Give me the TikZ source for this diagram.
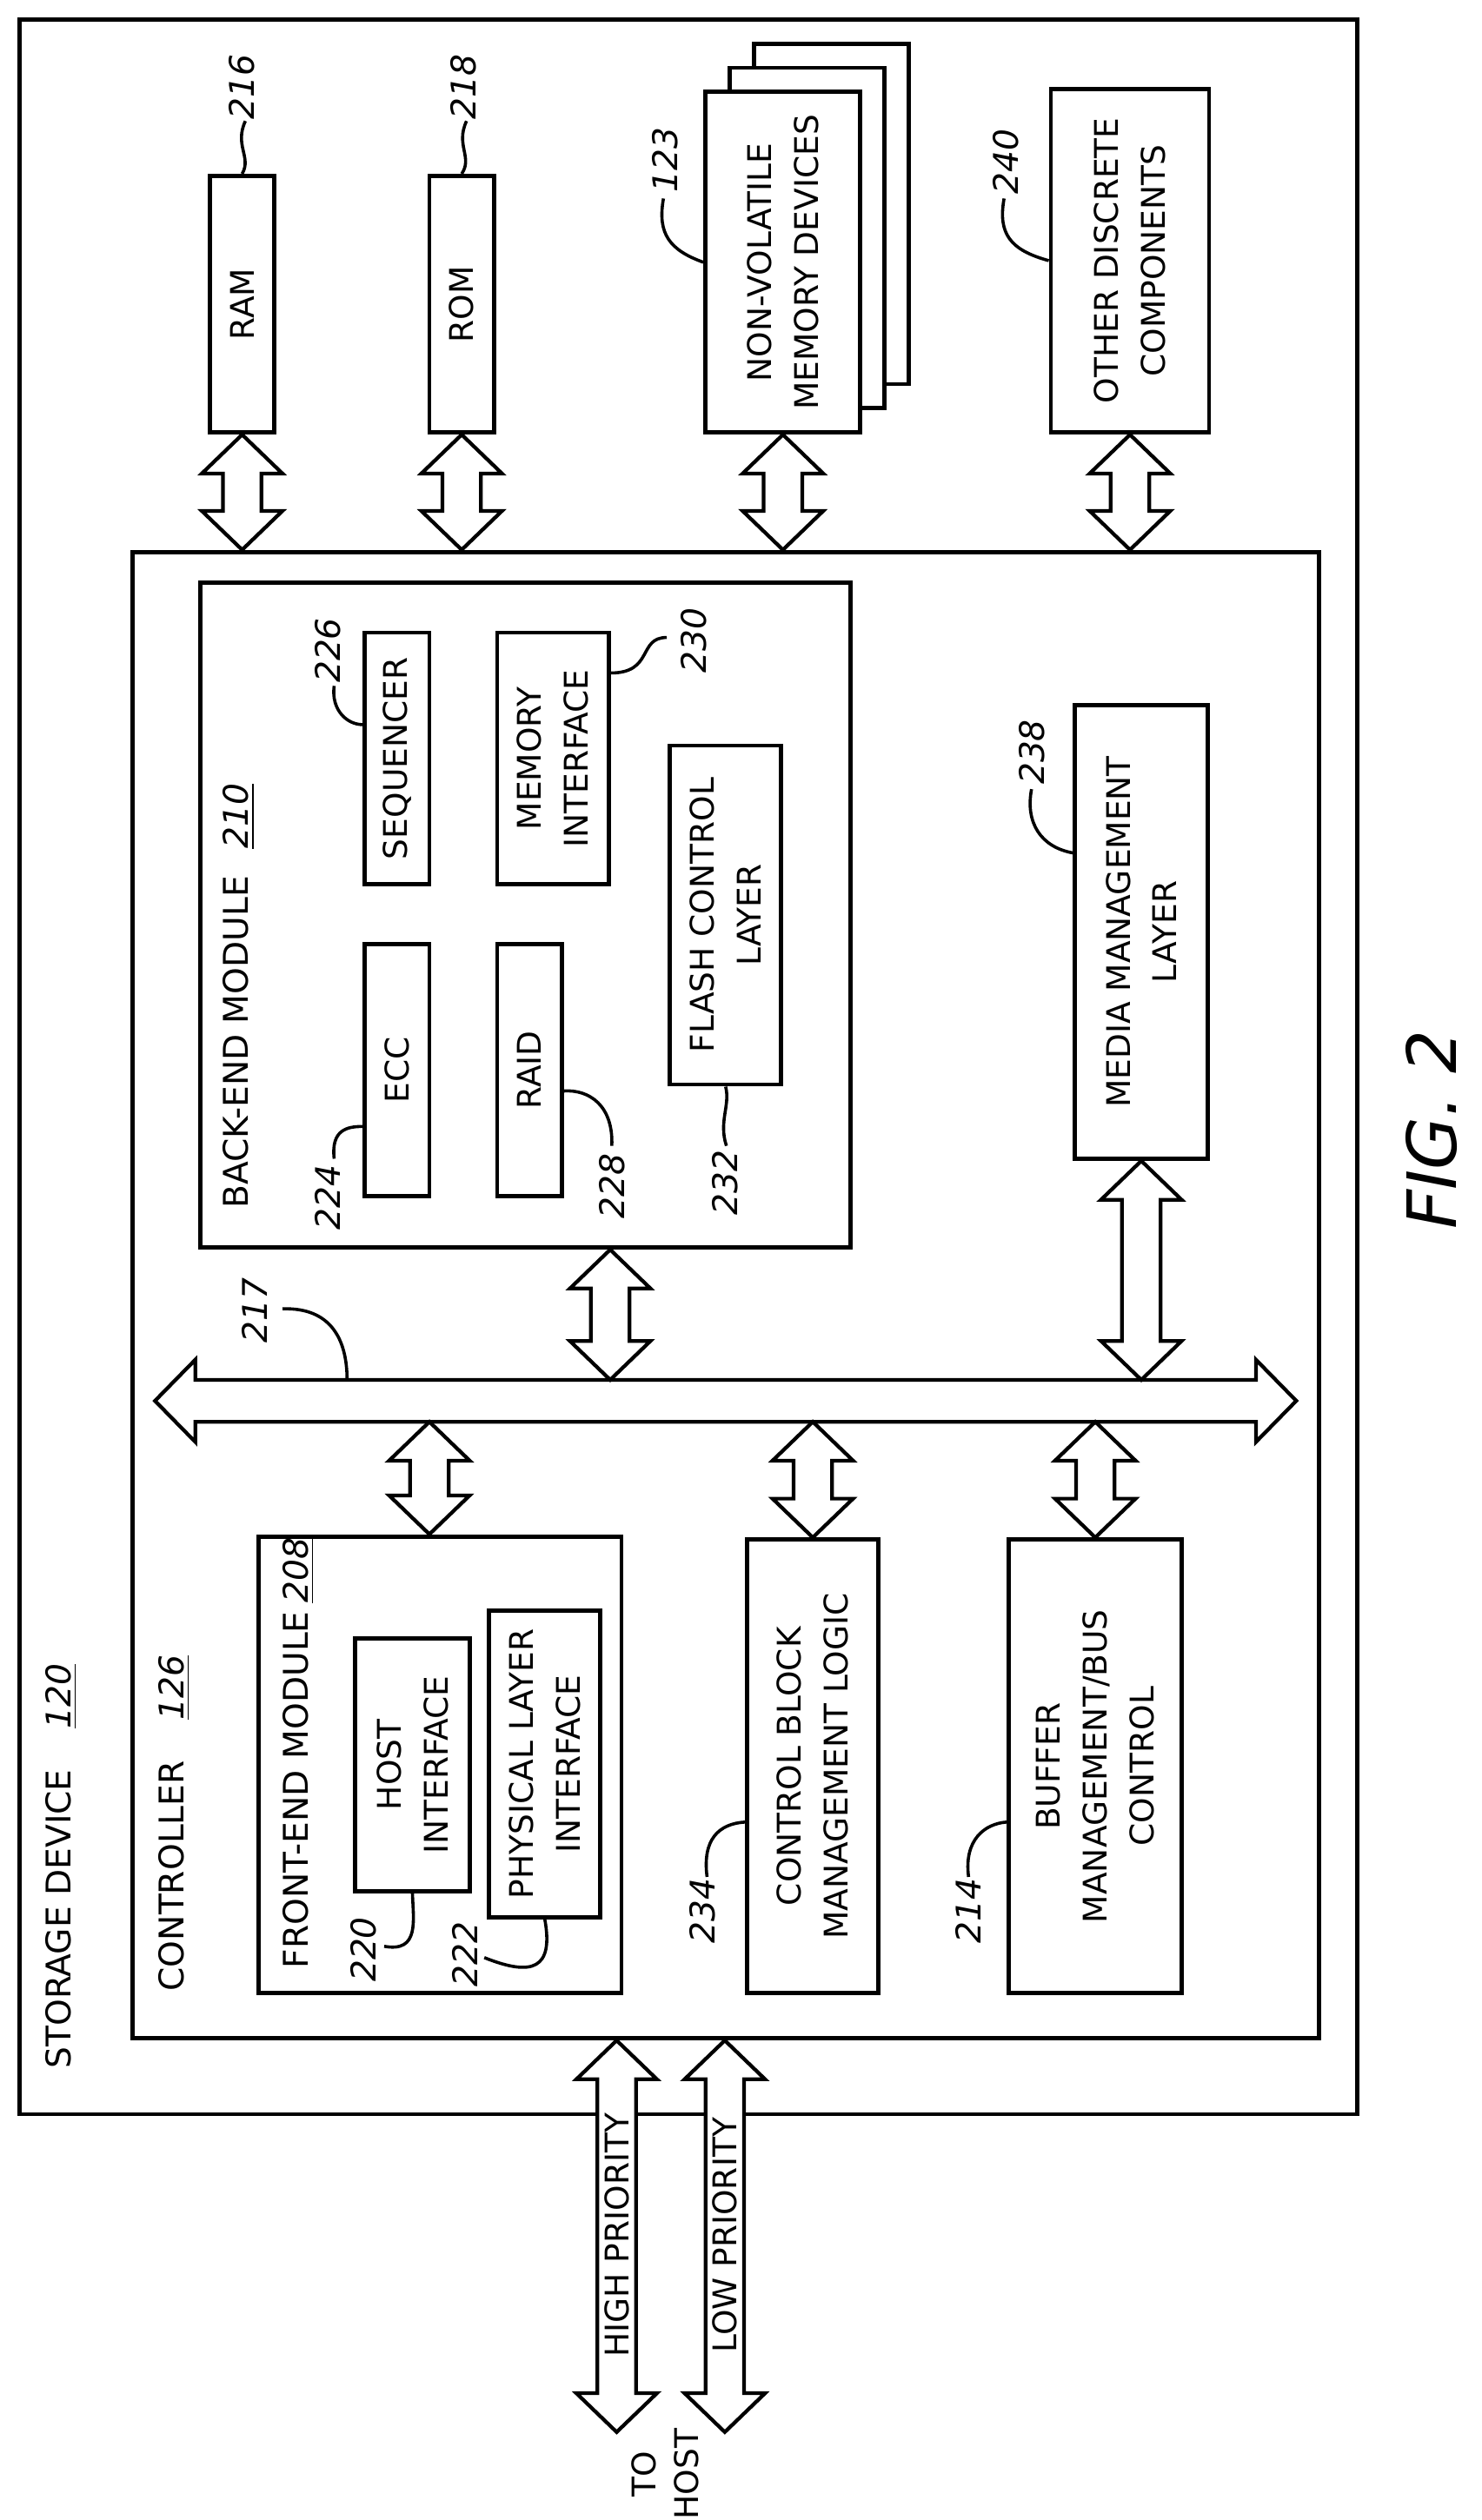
\documentclass[tikz,border=0pt]{standalone}
\usepackage{fontspec}
\setmainfont{DejaVu Sans}
\usetikzlibrary{calc,positioning}

\tikzset{
  box/.style={draw, line width=1.5pt, fill=white, inner sep=0pt},
  txt/.style={rotate=90, align=center, font=\fontsize{11.5}{16.5}\selectfont},
  num/.style={rotate=90, font=\fontsize{12}{14}\selectfont\itshape},
  lead/.style={line width=1.1pt},
  barrow/.style={draw, line width=1.3pt, fill=white, line join=miter}
}
% vertical block double arrow, top point #1, bottom point #2
\newcommand{\vblock}[2]{%
  \path[barrow] let \p1=#1, \p2=#2 in
    (\x1,\y1) -- (\x1+14.2pt,\y1-13.7pt) -- (\x1+6.8pt,\y1-13.7pt) -- (\x1+6.8pt,\y2+13.7pt)
    -- (\x1+14.2pt,\y2+13.7pt) -- (\x1,\y2) -- (\x1-14.2pt,\y2+13.7pt) -- (\x1-6.8pt,\y2+13.7pt)
    -- (\x1-6.8pt,\y1-13.7pt) -- (\x1-14.2pt,\y1-13.7pt) -- cycle;}

\begin{document}
\begin{tikzpicture}
\useasboundingbox (0,0) rectangle (18.36,-31.23);

% outer boxes
\node[box, minimum width=16.58cm, minimum height=25.96cm] (storage) at (8.53,-13.22) {};
\node[box, minimum width=14.70cm, minimum height=18.42cm] (controller) at (8.99,-16.05) {};

% memories above controller
\node[box, minimum width=0.80cm, minimum height=3.18cm, label={[txt]center:RAM}] (ram) at (3.0,-3.77) {};
\node[box, minimum width=0.80cm, minimum height=3.18cm, label={[txt]center:ROM}] (rom) at (5.72,-3.77) {};
\node[box, minimum width=1.92cm, minimum height=4.22cm] (nvm3) at (10.30,-2.65) {};
\node[box, minimum width=1.92cm, minimum height=4.22cm] (nvm2) at (10.00,-2.95) {};
\node[box, minimum width=1.92cm, minimum height=4.22cm, label={[txt]center:NON-VOLATILE\\MEMORY DEVICES}] (nvm) at (9.70,-3.25) {};
\node[box, minimum width=1.96cm, minimum height=4.26cm, label={[txt]center:OTHER DISCRETE\\COMPONENTS}] (other) at (14.0,-3.23) {};

\foreach \b in {ram, rom, nvm, other}
  \vblock{(\b.south)}{(\b.south |- controller.north)};

% back-end module
\node[box, minimum width=8.06cm, minimum height=8.24cm] (backend) at (6.51,-11.34) {};
\node[num, anchor=west] (betitle) at (2.96,-15.1) {\upshape BACK-END MODULE\hspace{0.8em}\underline{\itshape 210}};
\node[box, minimum width=0.80cm, minimum height=3.12cm, label={[txt]center:SEQUENCER}] (seq) at (4.92,-9.40) {};
\node[box, minimum width=1.38cm, minimum height=3.12cm, label={[txt]center:MEMORY\\INTERFACE}] (memif) at (6.85,-9.40) {};
\node[box, minimum width=0.80cm, minimum height=3.12cm, label={[txt]center:ECC}] (ecc) at (4.92,-13.26) {};
\node[box, minimum width=0.80cm, minimum height=3.12cm, label={[txt]center:RAID}] (raid) at (6.56,-13.26) {};
\node[box, minimum width=1.38cm, minimum height=4.20cm, label={[txt]center:FLASH CONTROL\\LAYER}] (flash) at (8.99,-11.34) {};
\node[box, minimum width=1.64cm, minimum height=5.62cm, label={[txt]center:MEDIA MANAGEMENT\\LAYER}] (media) at (14.14,-11.55) {};

% bus 217
\coordinate (busl) at (1.92,-17.36);
\coordinate (busr) at (16.06,-17.36);
\coordinate (bustop) at (0,-17.10);
\coordinate (busbot) at (0,-17.62);
\path[barrow] (busl) -- ++(0.50,0.51) -- ++(0,-0.25) -- ($(busr)+(-0.50,0.26)$) -- ++(0,0.25)
  -- (busr) -- ++(-0.50,-0.51) -- ++(0,0.25) -- ($(busl)+(0.50,-0.26)$) -- ++(0,-0.25) -- cycle;

\vblock{(7.56,0 |- backend.south)}{(7.56,0 |- bustop)}
\vblock{(media.south)}{(media.south |- bustop)}

% front side
\node[box, minimum width=4.50cm, minimum height=5.66cm] (frontend) at (5.45,-21.87) {};
\node[num, anchor=west] (fetitle) at (3.70,-24.52) {\upshape FRONT-END MODULE\hspace{0.25em}\underline{\itshape 208}};
\node[box, minimum width=1.42cm, minimum height=3.14cm, label={[txt]center:HOST\\INTERFACE}] (hostif) at (5.11,-21.87) {};
\node[box, minimum width=1.38cm, minimum height=3.80cm, label={[txt]center:PHYSICAL LAYER\\INTERFACE}] (phy) at (6.75,-21.86) {};
\node[box, minimum width=1.62cm, minimum height=5.62cm, label={[txt]center:CONTROL BLOCK\\MANAGEMENT LOGIC}] (ctrlblk) at (10.07,-21.89) {};
\node[box, minimum width=2.14cm, minimum height=5.62cm, label={[txt]center:BUFFER\\MANAGEMENT/BUS\\CONTROL}] (buffer) at (13.57,-21.89) {};

\vblock{(5.32,0 |- busbot)}{(5.32,0 |- frontend.north)}
\vblock{(ctrlblk.north |- busbot)}{(ctrlblk.north)}
\vblock{(buffer.north |- busbot)}{(buffer.north)}

% host links
\coordinate (hostend) at (0,-30.14);
\vblock{(7.64,0 |- controller.south)}{(7.64,0 |- hostend)}
\vblock{(8.98,0 |- controller.south)}{(8.98,0 |- hostend)}
\node[txt] (hiprio) at (7.64,-27.7) {HIGH PRIORITY};
\node[txt] (loprio) at (8.98,-27.7) {LOW PRIORITY};
\node[txt, font=\fontsize{11.5}{15}\selectfont] (tohost) at (8.24,-30.66) {TO\\HOST};

% titles
\node[num, anchor=west] (sdtitle) at (0.76,-25.76) {\upshape STORAGE DEVICE\hspace{1.2em}\underline{\itshape 120}};
\node[num, anchor=west] (cttitle) at (2.16,-24.8) {\upshape CONTROLLER\hspace{1.2em}\underline{\itshape 126}};

% reference numbers and leaders
\node[num] (n216) at (3.0,-1.08) {216};
\draw[lead] (3.04,-1.5) .. controls (2.9,-1.8) and (3.12,-1.95) .. (ram.north);
\node[num] (n218) at (5.74,-1.08) {218};
\draw[lead] (5.78,-1.5) .. controls (5.64,-1.8) and (5.86,-1.95) .. (rom.north);
\node[num] (n123) at (8.24,-1.98) {123};
\draw[lead] (8.22,-2.46) .. controls (8.14,-2.9) and (8.3,-3.1) .. (nvm.west);
\node[num] (n240) at (12.46,-2.0) {240};
\draw[lead] (12.44,-2.46) .. controls (12.36,-2.9) and (12.52,-3.1) .. (other.west);
\node[num] (n226) at (4.06,-8.06) {226};
\draw[lead] (4.14,-8.5) .. controls (4.1,-8.8) and (4.3,-8.98) .. ([yshift=0.42cm]seq.west);
\node[num] (n230) at (8.6,-7.94) {230};
\draw[lead] (8.26,-7.9) .. controls (7.9,-7.9) and (8.1,-8.34) .. ([yshift=1.06cm]memif.east);
\node[num] (n224) at (4.06,-14.84) {224};
\draw[lead] (4.14,-14.36) .. controls (4.1,-14.0) and (4.3,-13.96) .. ([yshift=-0.70cm]ecc.west);
\node[num] (n228) at (7.58,-14.7) {228};
\draw[lead] (7.58,-14.2) .. controls (7.6,-13.7) and (7.3,-13.5) .. ([yshift=-0.26cm]raid.east);
\node[num] (n232) at (8.98,-14.66) {232};
\draw[lead] (9.0,-14.2) .. controls (8.9,-13.9) and (9.05,-13.7) .. (flash.south);
\node[num] (n238) at (12.78,-9.32) {238};
\draw[lead] (12.78,-9.78) .. controls (12.7,-10.2) and (12.9,-10.5) .. ([yshift=0.98cm]media.west);
\coordinate (bus217) at (4.30,-17.10);
\node[num] (n217) at (3.16,-16.24) {217};
\draw[lead] (3.5,-16.22) .. controls (4.1,-16.2) and (4.3,-16.6) .. (bus217);
\node[num] (n220) at (4.5,-24.16) {220};
\draw[lead] (hostif.south) .. controls (5.12,-23.8) and (5.2,-24.2) .. (4.76,-24.12);
\node[num] (n222) at (5.76,-24.22) {222};
\draw[lead] (phy.south) .. controls (6.86,-24.4) and (6.6,-24.5) .. (6.0,-24.26);
\node[num] (n234) at (8.7,-23.68) {234};
\draw[lead] (8.76,-23.26) .. controls (8.7,-22.8) and (8.9,-22.6) .. ([yshift=-0.69cm]ctrlblk.west);
\node[num] (n214) at (12.0,-23.68) {214};
\draw[lead] (12.0,-23.26) .. controls (11.94,-22.8) and (12.2,-22.6) .. ([yshift=-0.69cm]buffer.west);

% figure label
\node[rotate=90, font=\fontsize{24}{26}\selectfont\itshape] (fig) at (17.74,-14.0) {FIG. 2};
\end{tikzpicture}
\end{document}
